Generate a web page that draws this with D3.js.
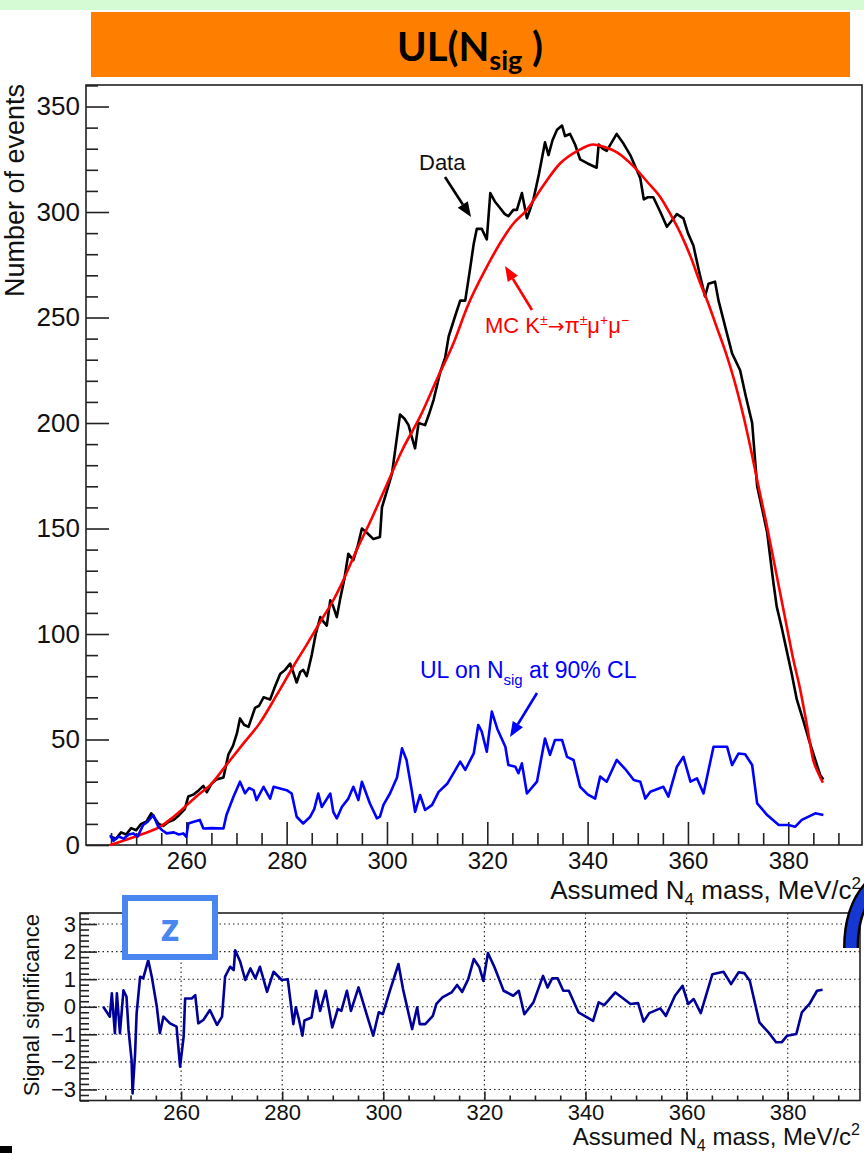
<!DOCTYPE html>
<html>
<head>
<meta charset="utf-8">
<script src="https://cdn.jsdelivr.net/npm/d3@7"></script>
<style>
  html, body { margin: 0; padding: 0; background: #fff; }
  svg { display: block; }
  text { font-family: "Liberation Sans", Arial, Helvetica, sans-serif; }
</style>
</head>
<body>
<svg id="chart" width="864" height="1155"></svg>
<script>
// ---------------- DATA ----------------
const dataMass = [244.8,246,247,248,249,250,251,252,253,253.6,254.5,255.4,256.5,257.5,258.5,259.7,260.4,261.5,262.5,263.4,264.1,265,266,267.4,268.4,269.3,270.1,270.7,271.5,272.4,273.7,274.5,275.4,276.7,277.5,278.7,279.7,280.7,281.3,282,282.7,283.3,284,285,285.8,286.7,287.3,288,288.7,289.3,290,290.7,291.5,292.3,293.3,294.2,295,296,297.3,298.6,299,300,301,301.8,302.6,303.5,304.3,305,305.6,306.3,307.6,308.5,309.3,310.6,311.6,312.3,313.5,314.6,315.6,316.5,317.3,317.9,318.9,319.9,320.6,321.5,322.5,323.5,324.2,325.2,325.9,326.9,327.9,328.5,329.2,330.3,331.5,332.2,333,333.9,334.9,335.5,336.5,337.5,338.5,340,341.8,342.2,343,343.8,344.8,345.8,347,348.5,350.5,351.2,352,353.1,354.5,355.8,356.8,357.8,359.1,360,361.1,362.2,363.4,364.1,365.4,366.1,367.5,368.8,370.4,371.5,372.8,373.8,375,375.8,377,377.7,378.7,379.7,380.7,381.7,383,384.1,385.3,386.4,387];
const dataCounts = [4,3,6,5,8,7,10,11,15,13,10,9,11,12,14,17,23,24,26,28,25,29,31,32,43,47,53,60,57,56,65,66,70,69,74,81,83,86,82,77,82,83,80,90,100,108,106,104,116,113,108,117,126,138,135,142,150,148,145,146,160,168,176,190,204,202,199,193,188,200,199,205,211,224,231,241,250,258,258,272,285,292,292,287,309,305,302,299,298,301,301,309,297,301,306,318,333,327,334,339,341,336,337,332,325,323,321,332,330,329,333,337,333,327,316,306,307,307,300,293,296,299,297,290,284,272,260,266,267,258,245,233,225,213,200,170,157,148,125,113,103,92,81,69,59,50,41,33,31];

const mcMass = [244.8,248,251,254.8,257,259.7,262,265,268,271,274.7,278,281.3,284,287,289.3,291,294,297,300,303,306.6,310,313.3,316,319.9,323,325,327.9,331,334.5,338,341.2,343,346,349.2,352,354.5,356.5,358.5,360.5,362.5,364,365.5,367.8,369.5,371.1,372.5,373.8,375.5,377.1,378.5,379.7,381,382.4,383.7,385,386,386.9];
const mcCounts = [0,2.5,5,8.7,12.5,18,23,29,38,47,58,71,84.5,95,107,116,124,140,155,171,187,203,221,238,255,274,287,294,301,312,323,329,332,331,328,321.5,314,307,299,290,279,266,257,247,231.5,218,203,188,173,154,135,118,103.5,88,73.5,57,40,34,29.5];

const ulMass = [244.8,245.5,246.5,247.5,248.5,249.4,250.3,251.4,252.3,253.4,254.4,255.2,256.1,257.5,258.5,259.4,260,260.4,261.5,262.7,263.4,265,267.4,268,269.4,270.7,271.7,272.5,273.4,274,275.4,276.7,277.4,278.7,280,281,282,283.3,284.7,285.5,286.3,287,288.7,289.3,290,291,292.3,293.3,294.3,295,296.6,298,298.6,299.3,300.6,302,303,303.9,305,305.6,306.6,307.6,309,310.3,312,313.5,314.6,315.6,317.3,318.2,318.9,319.9,320.9,322,323.6,324.2,325.6,326.2,326.9,327.9,329.9,331.5,332.5,333.5,334.9,335.9,337.2,338.5,340,341.5,342.5,343.8,345.8,347.5,349.2,350.5,351.5,352.5,355.1,356.1,357.8,359.1,360.5,361.8,363.1,365.1,367.8,368.8,370.1,371.4,372.8,373.8,375.8,378.1,380,381.4,382.7,385.4,387];
const ulCounts = [4.7,2,4,3,5,5.5,4,9.5,11,14.2,8.7,7,5.5,6,5,5.5,3.9,10.2,11,11.9,7.8,8,7.8,14.2,22.9,30,24.5,27,26,21.3,27.6,22,27.6,26.8,26,24.4,13.4,10.2,13.4,17,24.4,18,24.4,15.7,12.6,18,22,27.6,21.3,30,19.7,12.6,13.4,19,24.4,32,45.8,40.3,25,15.7,23.7,16.6,19,25.2,29,35,39.5,35.6,43.4,56.9,53.7,44.2,63.2,55,46.6,37.9,37.1,34,38.7,24.4,30,50.5,42.7,49.8,49.8,41.8,40.3,27.6,24,22,32.4,30,40.3,36,30.8,30,22,25.2,27.6,22.9,37.1,41.8,30,31.6,24.4,46.6,46.6,37.9,43.4,43,37.9,19.7,14.2,9.5,9.5,8.7,11.9,15,14.2];

const sigMass = [244.6,245.9,246.3,246.9,247.3,247.9,248.6,249.2,249.6,250.2,250.4,250.9,251.2,251.9,252.5,253.5,254.2,255.2,255.8,256.5,257.8,259.1,259.8,260.5,260.8,262.1,262.8,263.4,264.4,265.7,267.1,268.1,268.7,269.7,270.4,270.7,271.7,272.7,273.7,274.7,275.6,277,278.3,279.9,281.1,282.2,282.7,283.3,284,284.4,285.8,286.7,287.5,288.6,289.9,291,291.7,292.8,293.6,295.1,296.5,298,299.1,299.9,301.3,303,303.9,305.7,306.7,307.2,308.3,309.8,310.5,311.7,313.5,314.6,315.6,316.8,317.9,319,319.8,320.7,322,323.8,325.7,326.8,327.9,329.7,331.6,332.5,333.4,334.5,335.6,336.7,338.6,341.5,342.6,343.7,345.9,348.9,350.4,351.5,352.6,354.8,355.9,357.7,359.2,360.3,361.4,362.8,365.1,367.3,368.8,370.3,371.4,372.5,374.4,376.2,377.7,378.8,379.9,381.7,382.8,384.3,385.8,386.9];
const sigValues = [0,-0.36,0.49,-0.96,0.49,-0.96,0.6,0.36,-0.84,-1.93,-3.14,-1.69,-0.24,1.09,1.03,1.69,1.09,0,-0.96,-0.36,-0.6,-0.72,-2.17,-1.09,0.3,0.3,0.42,-0.6,-0.48,-0.12,-0.66,-0.36,1.09,1.45,1.33,2.05,1.63,0.97,1.39,1.03,1.45,0.54,1.27,0.97,1.0,-0.63,-0.02,-0.45,-1.05,-0.5,-0.39,0.58,-0.15,0.58,-0.75,-0.08,-0.15,0.58,-0.15,0.7,-0.15,-1.05,-0.2,-0.27,0.58,1.55,0.64,-0.81,-0.02,-0.63,-0.63,-0.33,0.1,0.34,0.52,0.79,0.54,1.0,1.73,1.43,0.94,1.95,1.43,0.58,0.4,0.58,-0.27,0.16,1.12,0.7,1.03,1.03,0.58,0.58,-0.2,-0.51,0.16,0.06,0.52,0.1,0.13,-0.54,-0.23,-0.06,-0.33,0.4,0.76,0.1,0.28,-0.23,1.18,1.27,0.82,1.25,1.22,0.94,-0.57,-0.93,-1.29,-1.29,-1.05,-0.99,-0.2,0.1,0.58,0.62];

const massTicks = [260, 280, 300, 320, 340, 360, 380];
const countTicks = [0, 50, 100, 150, 200, 250, 300, 350];
const sigTicks = [-3, -2, -1, 0, 1, 2, 3];

// ---------------- SETUP ----------------
const svg = d3.select("#chart");
const FONT = '"Liberation Sans", Arial, Helvetica, sans-serif';

// header
svg.append("rect").attr("x", 0).attr("y", 0).attr("width", 864).attr("height", 10).attr("fill", "#d5fbd5");
svg.append("rect").attr("x", 91).attr("y", 12).attr("width", 759).attr("height", 65).attr("fill", "#fe7f00");
const ttl = svg.append("text").attr("x", 470).attr("y", 61).attr("text-anchor", "middle")
  .style("font-family", "Lato, 'Open Sans', sans-serif").style("font-weight", "bold").style("font-size", "40px").attr("fill", "#000");
ttl.append("tspan").text("UL(N");
ttl.append("tspan").attr("dy", 9).style("font-size", "27px").text("sig");
ttl.append("tspan").attr("dy", -9).text(" )");

// ---------------- TOP PANEL ----------------
const xTop = d3.scaleLinear().domain([240, 394.7]).range([86, 862]);
const yTop = d3.scaleLinear().domain([0, 360.2]).range([845, 85]);

const topG = svg.append("g");
topG.append("rect").attr("x", 86).attr("y", 85).attr("width", 776).attr("height", 760)
  .attr("fill", "none").attr("stroke", "#222").attr("stroke-width", 1.6);

function styleAxis(g) {
  g.select(".domain").remove();
  g.selectAll(".tick line").attr("stroke", "#222").attr("stroke-width", 1.6);
}

// y axis major + minor
topG.append("g").attr("transform", "translate(86,0)")
  .call(d3.axisLeft(yTop).tickValues(countTicks).tickSizeInner(-23).tickSizeOuter(0).tickPadding(6).tickFormat(d3.format("d")))
  .call(styleAxis)
  .call(g => g.selectAll("text").style("font-family", FONT).style("font-size", "26px").attr("fill", "#111"));
topG.append("g").attr("transform", "translate(86,0)")
  .call(d3.axisLeft(yTop).tickValues(d3.range(0, 361, 10).filter(v => v % 50 !== 0)).tickSizeInner(-12).tickSizeOuter(0).tickFormat(""))
  .call(styleAxis);

// x axis major + minor
topG.append("g").attr("transform", "translate(0,845)")
  .call(d3.axisBottom(xTop).tickValues(massTicks).tickSizeInner(-23).tickSizeOuter(0).tickPadding(7).tickFormat(d3.format("d")))
  .call(styleAxis)
  .call(g => g.selectAll("text").style("font-family", FONT).style("font-size", "24px").attr("fill", "#111"));
topG.append("g").attr("transform", "translate(0,845)")
  .call(d3.axisBottom(xTop).tickValues(d3.range(245, 395, 5).filter(v => v % 20 !== 0)).tickSizeInner(-12).tickSizeOuter(0).tickFormat(""))
  .call(styleAxis);

// axis titles
const xt1 = topG.append("text").attr("x", 861).attr("y", 899).attr("text-anchor", "end")
  .style("font-size", "26px").attr("fill", "#111");
xt1.append("tspan").text("Assumed N");
xt1.append("tspan").attr("dy", 6).style("font-size", "17px").text("4");
xt1.append("tspan").attr("dy", -6).text(" mass, MeV/c");
xt1.append("tspan").attr("dy", -10).style("font-size", "17px").text("2");

topG.append("text").attr("transform", "translate(24,84) rotate(-90)").attr("text-anchor", "end")
  .style("font-size", "27px").attr("fill", "#111").text("Number of events");

// curves
const lineTop = d3.line().x(d => xTop(d[0])).y(d => yTop(d[1]));
const mcLine = d3.line().x(d => xTop(d[0])).y(d => yTop(d[1])).curve(d3.curveMonotoneX);
const dataPts = dataMass.map((m, i) => [m, dataCounts[i]]);
const mcPts = mcMass.map((m, i) => [m, mcCounts[i]]);
const ulPts = ulMass.map((m, i) => [m, ulCounts[i]]);

topG.append("path").datum(dataPts).attr("d", lineTop).attr("fill", "none").attr("stroke", "#000").attr("stroke-width", 2.6).attr("stroke-linejoin", "round");
topG.append("path").datum(mcPts).attr("d", mcLine).attr("fill", "none").attr("stroke", "#ff0000").attr("stroke-width", 2.6);
topG.append("path").datum(ulPts).attr("d", lineTop).attr("fill", "none").attr("stroke", "#0000ff").attr("stroke-width", 2.6).attr("stroke-linejoin", "round");

// annotations
function arrow(g, x1, y1, x2, y2, color) {
  const ang = Math.atan2(y2 - y1, x2 - x1);
  const L = 15, W = 6;
  const bx = x2 - L * Math.cos(ang), by = y2 - L * Math.sin(ang);
  g.append("line").attr("x1", x1).attr("y1", y1).attr("x2", bx).attr("y2", by)
    .attr("stroke", color).attr("stroke-width", 2.6);
  const p = [[x2, y2],
    [bx + W * Math.sin(ang), by - W * Math.cos(ang)],
    [bx - W * Math.sin(ang), by + W * Math.cos(ang)]];
  g.append("polygon").attr("points", p.map(q => q.join(",")).join(" ")).attr("fill", color);
}

topG.append("text").attr("x", 419).attr("y", 170).style("font-size", "22px").attr("fill", "#111").text("Data");
arrow(topG, 445, 177, 471, 217, "#000");

const mcT = topG.append("text").attr("x", 485).attr("y", 333).style("font-size", "22px").attr("fill", "#ff0000");
mcT.append("tspan").text("MC K");
mcT.append("tspan").attr("dy", -8).style("font-size", "14px").text("±");
mcT.append("tspan").attr("dy", 8).style("font-family", "'DejaVu Sans', sans-serif").style("font-size", "20px").text("→");
mcT.append("tspan").text("π");
mcT.append("tspan").attr("dy", -8).style("font-size", "14px").text("±");
mcT.append("tspan").attr("dy", 8).text("μ");
mcT.append("tspan").attr("dy", -8).style("font-size", "14px").text("+");
mcT.append("tspan").attr("dy", 8).text("μ");
mcT.append("tspan").attr("dy", -8).style("font-size", "14px").text("−");
arrow(topG, 532, 310, 505, 266, "#ff0000");

const ulT = topG.append("text").attr("x", 420).attr("y", 678).style("font-size", "23px").attr("fill", "#0000ff");
ulT.append("tspan").text("UL on N");
ulT.append("tspan").attr("dy", 7).style("font-size", "15px").text("sig");
ulT.append("tspan").attr("dy", -7).text(" at 90% CL");
arrow(topG, 537, 693, 510, 737, "#0000ff");

// ---------------- BOTTOM PANEL ----------------
const xBot = d3.scaleLinear().domain([240, 394.3]).range([80, 860]);
const yBot = d3.scaleLinear().domain([-3.4, 3.4]).range([1100.5, 913]);
const botG = svg.append("g");

// grid
botG.append("g").selectAll("line").data(massTicks).join("line")
  .attr("x1", d => xBot(d)).attr("x2", d => xBot(d)).attr("y1", 913).attr("y2", 1100.5)
  .attr("stroke", "#222").attr("stroke-width", 1.1).attr("stroke-dasharray", "1.5,3");
botG.append("g").selectAll("line").data(sigTicks).join("line")
  .attr("x1", 80).attr("x2", 860).attr("y1", d => yBot(d)).attr("y2", d => yBot(d))
  .attr("stroke", "#222").attr("stroke-width", 1.1).attr("stroke-dasharray", "1.5,3");

botG.append("rect").attr("x", 80).attr("y", 913).attr("width", 780).attr("height", 187.5)
  .attr("fill", "none").attr("stroke", "#222").attr("stroke-width", 1.6);

botG.append("g").attr("transform", "translate(80,0)")
  .call(d3.axisLeft(yBot).tickValues(sigTicks).tickSizeInner(-17).tickSizeOuter(0).tickPadding(4).tickFormat(d3.format("d")))
  .call(styleAxis)
  .call(g => g.selectAll("text").style("font-family", FONT).style("font-size", "22px").attr("fill", "#111"));
botG.append("g").attr("transform", "translate(80,0)")
  .call(d3.axisLeft(yBot).tickValues(d3.range(-17, 18).map(v => v / 5).filter(v => Math.abs(v - Math.round(v)) > 1e-6)).tickSizeInner(-9).tickSizeOuter(0).tickFormat(""))
  .call(styleAxis);

botG.append("g").attr("transform", "translate(0,1100.5)")
  .call(d3.axisBottom(xBot).tickValues(massTicks).tickSizeInner(-9).tickSizeOuter(0).tickPadding(4).tickFormat(d3.format("d")))
  .call(styleAxis)
  .call(g => g.selectAll("text").style("font-family", FONT).style("font-size", "22px").attr("fill", "#111"));
botG.append("g").attr("transform", "translate(0,1100.5)")
  .call(d3.axisBottom(xBot).tickValues(d3.range(245, 395, 5).filter(v => v % 20 !== 0)).tickSizeInner(-5).tickSizeOuter(0).tickFormat(""))
  .call(styleAxis);

const xt2 = botG.append("text").attr("x", 860).attr("y", 1145).attr("text-anchor", "end")
  .style("font-size", "24px").attr("fill", "#111");
xt2.append("tspan").text("Assumed N");
xt2.append("tspan").attr("dy", 6).style("font-size", "16px").text("4");
xt2.append("tspan").attr("dy", -6).text(" mass, MeV/c");
xt2.append("tspan").attr("dy", -10).style("font-size", "16px").text("2");

botG.append("text").attr("transform", "translate(39,914) rotate(-90)").attr("text-anchor", "end")
  .style("font-size", "22px").attr("fill", "#111").text("Signal significance");

const sigPts = sigMass.map((m, i) => [m, sigValues[i]]);
botG.append("path").datum(sigPts)
  .attr("d", d3.line().x(d => xBot(d[0])).y(d => yBot(d[1])))
  .attr("fill", "none").attr("stroke", "#000099").attr("stroke-width", 2.6).attr("stroke-linejoin", "round");

// "z" box
botG.append("rect").attr("x", 125).attr("y", 898).attr("width", 90).attr("height", 59)
  .attr("fill", "#fff").attr("stroke", "#4a86ef").attr("stroke-width", 6);
botG.append("text").attr("x", 170).attr("y", 941).attr("text-anchor", "middle")
  .style("font-family", "'Open Sans', sans-serif").style("font-weight", "bold").style("font-size", "38px")
  .attr("fill", "#4a86ef").text("z");

// decorative blue arc on the right edge and black mark bottom-left
svg.append("path").attr("d", "M851,948 Q851,908 872,886").attr("fill", "none")
  .attr("stroke", "#000").attr("stroke-width", 16);
svg.append("path").attr("d", "M851,948 Q851,908 872,886").attr("fill", "none")
  .attr("stroke", "#1537d2").attr("stroke-width", 11);
svg.append("rect").attr("x", 0).attr("y", 1146).attr("width", 12).attr("height", 7).attr("fill", "#000");
</script>
</body>
</html>
